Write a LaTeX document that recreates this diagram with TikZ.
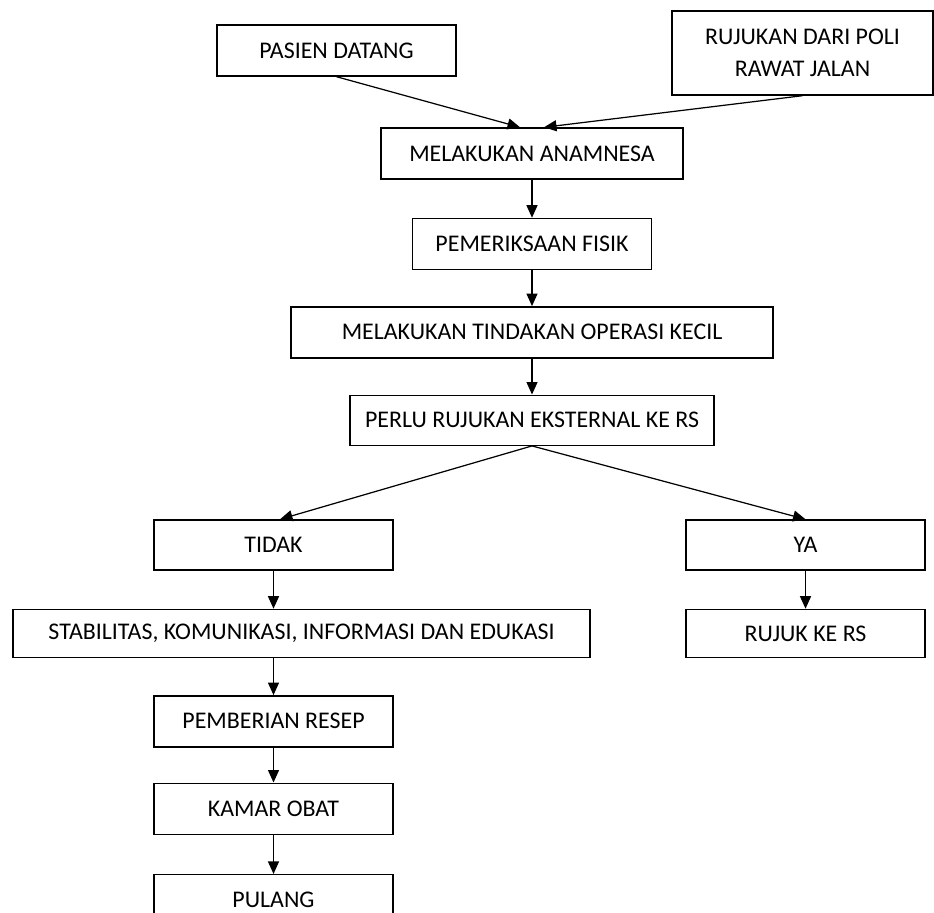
\documentclass[tikz,border=0pt]{standalone}
\usepackage{fontspec}
\setmainfont{Carlito}
\usetikzlibrary{positioning,arrows.meta}

\begin{document}
\begin{tikzpicture}[node distance=0.74cm,
  box/.style={draw,line width=0.8pt,minimum height=1.02cm,inner sep=0pt,
    font=\fontsize{13.6}{18}\selectfont,align=center},
  >={Triangle[length=2.5mm,width=2.2mm]}]
  \useasboundingbox (0,0) rectangle (18.68,-18.24);
  \node[box,minimum width=4.78cm] (Pasien) at (6.73,-1.01) {PASIEN DATANG};
  \node[box,minimum width=5.22cm,minimum height=1.68cm] (Rujukan) at (16.05,-1.06) {RUJUKAN DARI POLI\\RAWAT JALAN};
  \node[box,minimum width=6.04cm] (Anamnesa) at (10.64,-3.07) {MELAKUKAN ANAMNESA};
  \node[box,minimum width=4.78cm] (Fisik)    [below=0.76cm of Anamnesa] {PEMERIKSAAN FISIK};
  \node[box,minimum width=9.64cm] (Operasi)  [below=0.72cm of Fisik] {MELAKUKAN TINDAKAN OPERASI KECIL};
  \node[box,minimum width=7.28cm,minimum height=1cm] (Perlu) [below=0.72cm of Operasi] {PERLU RUJUKAN EKSTERNAL KE RS};
  \node[box,minimum width=4.78cm,minimum height=1cm] (Tidak) at (5.47,-10.9) {TIDAK};
  \node[box,minimum width=4.78cm,minimum height=1cm] (Ya)    at (16.11,-10.9) {YA};
  \node[box,minimum width=11.54cm,minimum height=0.96cm] (Stabilitas) [below=0.76cm of Tidak,xshift=0.56cm] {STABILITAS, KOMUNIKASI, INFORMASI DAN EDUKASI};
  \node[box,minimum width=4.78cm,minimum height=0.96cm] (RujukRS) [below=0.76cm of Ya] {RUJUK KE RS};
  \node[box,minimum width=4.78cm] (Resep)  [below=of Stabilitas,xshift=-0.56cm] {PEMBERIAN RESEP};
  \node[box,minimum width=4.78cm] (Obat)   [below=0.7cm of Resep] {KAMAR OBAT};
  \node[box,minimum width=4.78cm] (Pulang) [below=0.78cm of Obat] {PULANG};

  \path[->,line width=0.7pt]
    (Pasien.south)  edge ([xshift=-0.24cm]Anamnesa.north)
    (Rujukan.south) edge ([xshift=0.24cm]Anamnesa.north)
    (Anamnesa) edge (Fisik)
    (Fisik)    edge (Operasi)
    (Operasi)  edge (Perlu)
    (Perlu.south) edge ([xshift=0.13cm]Tidak.north)
    (Perlu.south) edge (Ya.north)
    (Tidak.south) edge (Tidak.south |- Stabilitas.north)
    (Ya)       edge (RujukRS)
    (Resep.north |- Stabilitas.south) edge (Resep.north)
    (Resep)    edge (Obat)
    (Obat)     edge (Pulang);
\end{tikzpicture}
\end{document}
